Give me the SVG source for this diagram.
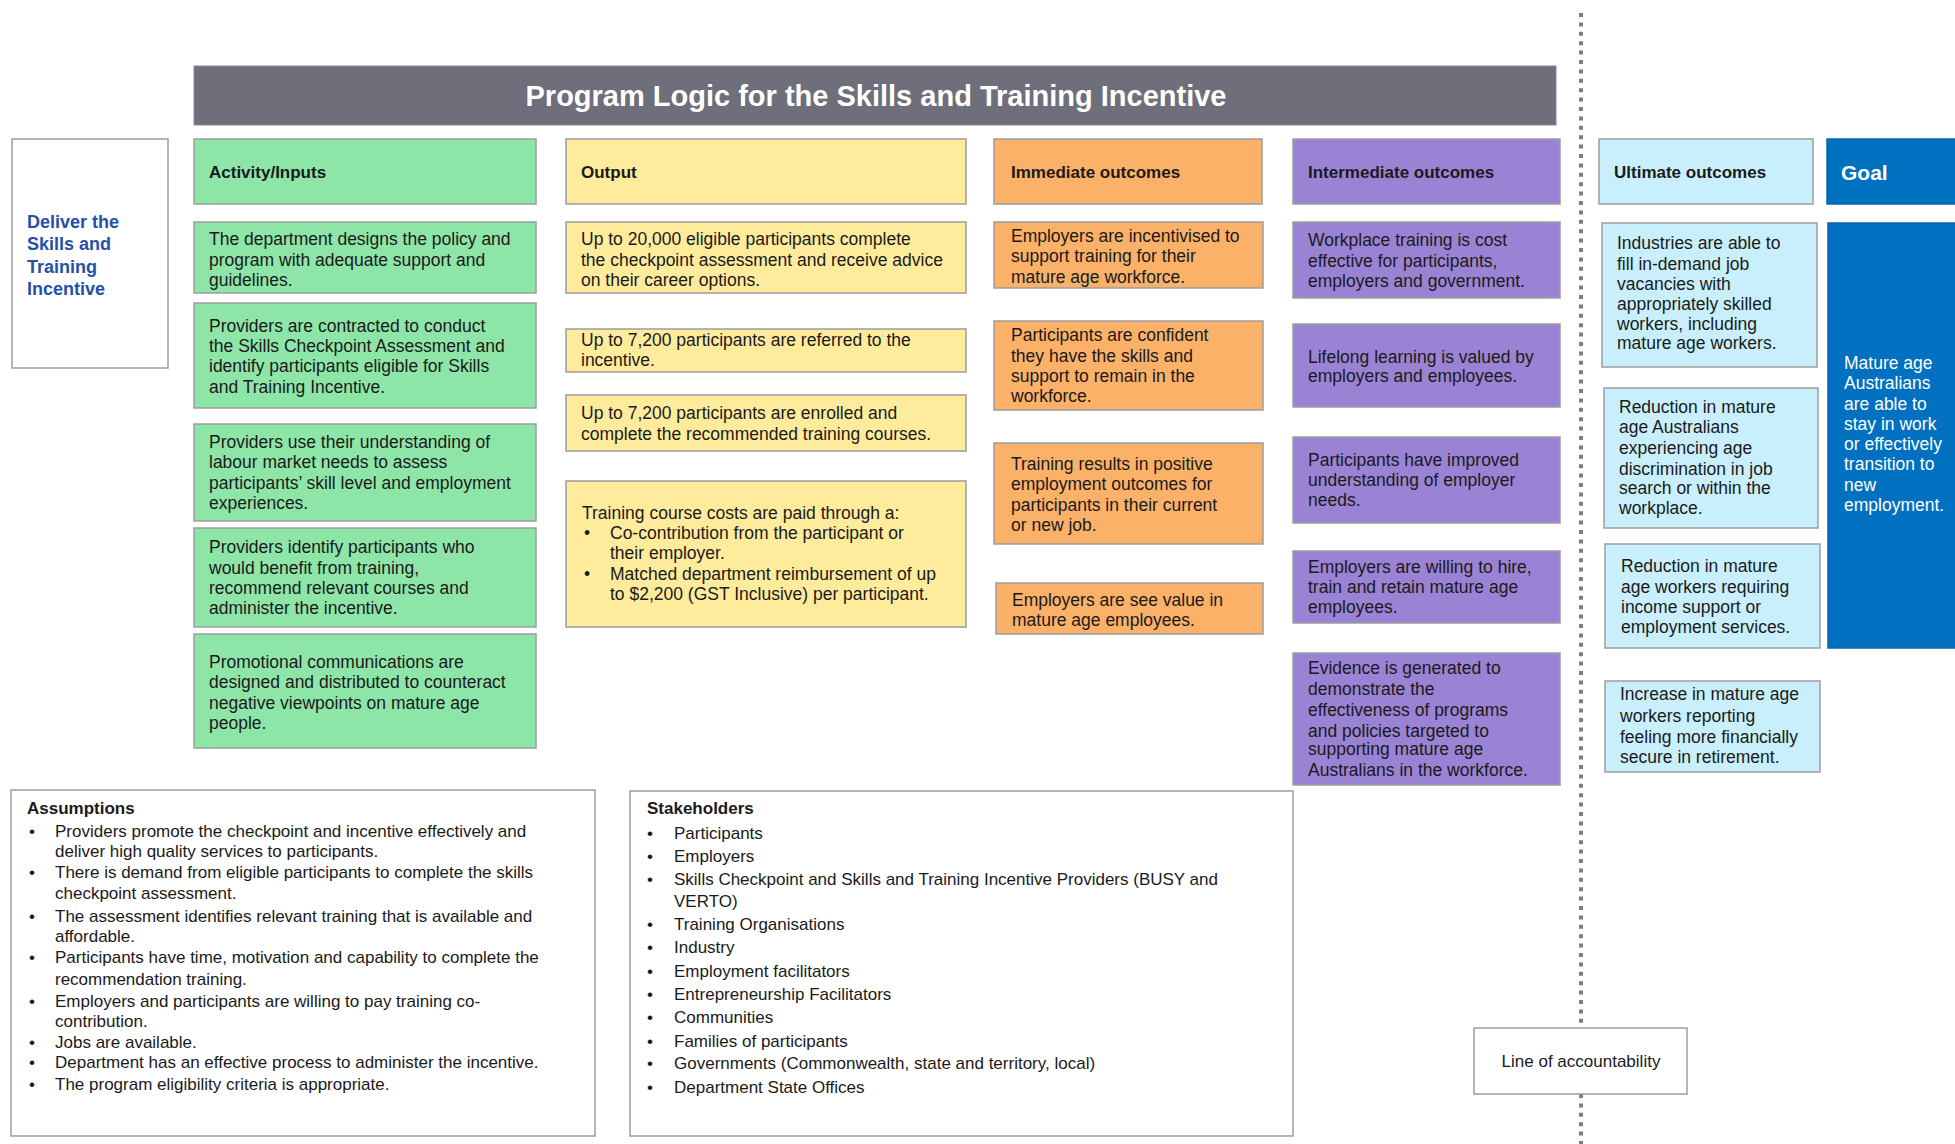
<svg xmlns="http://www.w3.org/2000/svg" width="1955" height="1144" viewBox="0 0 1955 1144">
<style>
.box{stroke:#9d9d9d;stroke-width:1.5}
.green{fill:#8ee5a8}
.yellow{fill:#ffeb9c}
.orange{fill:#fbb168}
.purple{fill:#9a83d4}
.lblue{fill:#c9effc}
.blue{fill:#0070c0;stroke:#0a64ad}
.white{fill:#ffffff}
text{font-family:"Liberation Sans",Arial,sans-serif;font-size:17.5px;fill:#1a1a1a}
.h{font-weight:bold;font-size:17px}
.s{font-size:17px}
.title{font-weight:bold;font-size:29px;fill:#ffffff}
.deliver{font-weight:bold;font-size:18px;fill:#2450a8}
.wt{fill:#ffffff}
</style>
<rect width="1955" height="1144" fill="#ffffff"/>

<g id="connectors">
  <line id="line-of-accountability-divider" x1="1581" y1="13" x2="1581" y2="1144" stroke="#7d7d86" stroke-width="4" stroke-dasharray="4 5.4"/>
</g>

<g id="title">
  <rect x="194" y="66" width="1362" height="59" fill="#6f6f7b" stroke="#8a8a92" stroke-width="1"/>
  <text class="title" x="876" y="106" text-anchor="middle">Program Logic for the Skills and Training Incentive</text>
</g>

<g id="deliver">
  <rect class="box white" x="12" y="139" width="156" height="229"/>
  <text class="deliver"><tspan x="27" y="228">Deliver the</tspan><tspan x="27" y="250">Skills and</tspan><tspan x="27" y="273">Training</tspan><tspan x="27" y="295">Incentive</tspan></text>
</g>

<!-- Headers -->
<g id="hdr-activity">
  <rect class="box green" x="194" y="139" width="342" height="65"/>
  <text class="h" x="209" y="178">Activity/Inputs</text>
</g>
<g id="hdr-output">
  <rect class="box yellow" x="566" y="139" width="400" height="65"/>
  <text class="h" x="581" y="178">Output</text>
</g>
<g id="hdr-immediate">
  <rect class="box orange" x="994" y="139" width="268" height="65"/>
  <text class="h" x="1011" y="178">Immediate outcomes</text>
</g>
<g id="hdr-intermediate">
  <rect class="box purple" x="1293" y="139" width="267" height="65"/>
  <text class="h" x="1308" y="178">Intermediate outcomes</text>
</g>
<g id="hdr-ultimate">
  <rect class="box lblue" x="1599" y="139" width="214" height="65"/>
  <text class="h" x="1614" y="178">Ultimate outcomes</text>
</g>
<g id="hdr-goal">
  <rect class="box blue" x="1827" y="139" width="130" height="65"/>
  <text class="h wt" x="1841" y="180" style="font-size:21px">Goal</text>
</g>

<!-- Activity/Inputs -->
<g id="act-1">
  <rect class="box green" x="194" y="222" width="342" height="71"/>
  <text><tspan x="209" y="245">The department designs the policy and</tspan><tspan x="209" y="266">program with adequate support and</tspan><tspan x="209" y="286">guidelines.</tspan></text>
</g>
<g id="act-2">
  <rect class="box green" x="194" y="303" width="342" height="105"/>
  <text><tspan x="209" y="332">Providers are contracted to conduct</tspan><tspan x="209" y="352">the Skills Checkpoint Assessment and</tspan><tspan x="209" y="372">identify participants eligible for Skills</tspan><tspan x="209" y="393">and Training Incentive.</tspan></text>
</g>
<g id="act-3">
  <rect class="box green" x="194" y="424" width="342" height="97"/>
  <text><tspan x="209" y="448">Providers use their understanding of</tspan><tspan x="209" y="468">labour market needs to assess</tspan><tspan x="209" y="489">participants’ skill level and employment</tspan><tspan x="209" y="509">experiences.</tspan></text>
</g>
<g id="act-4">
  <rect class="box green" x="194" y="528" width="342" height="99"/>
  <text><tspan x="209" y="553">Providers identify participants who</tspan><tspan x="209" y="574">would benefit from training,</tspan><tspan x="209" y="594">recommend relevant courses and</tspan><tspan x="209" y="614">administer the incentive.</tspan></text>
</g>
<g id="act-5">
  <rect class="box green" x="194" y="634" width="342" height="114"/>
  <text><tspan x="209" y="668">Promotional communications are</tspan><tspan x="209" y="688">designed and distributed to counteract</tspan><tspan x="209" y="709">negative viewpoints on mature age</tspan><tspan x="209" y="729">people.</tspan></text>
</g>

<!-- Output -->
<g id="out-1">
  <rect class="box yellow" x="566" y="222" width="400" height="71"/>
  <text><tspan x="581" y="245">Up to 20,000 eligible participants complete</tspan><tspan x="581" y="266">the checkpoint assessment and receive advice</tspan><tspan x="581" y="286">on their career options.</tspan></text>
</g>
<g id="out-2">
  <rect class="box yellow" x="566" y="329" width="400" height="43"/>
  <text><tspan x="581" y="346">Up to 7,200 participants are referred to the</tspan><tspan x="581" y="366">incentive.</tspan></text>
</g>
<g id="out-3">
  <rect class="box yellow" x="566" y="395" width="400" height="56"/>
  <text><tspan x="581" y="419">Up to 7,200 participants are enrolled and</tspan><tspan x="581" y="440">complete the recommended training courses.</tspan></text>
</g>
<g id="out-4">
  <rect class="box yellow" x="566" y="481" width="400" height="146"/>
  <text><tspan x="582" y="519">Training course costs are paid through a:</tspan><tspan x="584" y="539">•</tspan><tspan x="610" y="539">Co-contribution from the participant or</tspan><tspan x="610" y="559">their employer.</tspan><tspan x="584" y="580">•</tspan><tspan x="610" y="580">Matched department reimbursement of up</tspan><tspan x="610" y="600">to $2,200 (GST Inclusive) per participant.</tspan></text>
</g>

<!-- Immediate outcomes -->
<g id="imm-1">
  <rect class="box orange" x="994" y="222" width="269" height="66"/>
  <text><tspan x="1011" y="242">Employers are incentivised to</tspan><tspan x="1011" y="262">support training for their</tspan><tspan x="1011" y="283">mature age workforce.</tspan></text>
</g>
<g id="imm-2">
  <rect class="box orange" x="994" y="321" width="269" height="89"/>
  <text><tspan x="1011" y="341">Participants are confident</tspan><tspan x="1011" y="362">they have the skills and</tspan><tspan x="1011" y="382">support to remain in the</tspan><tspan x="1011" y="402">workforce.</tspan></text>
</g>
<g id="imm-3">
  <rect class="box orange" x="994" y="443" width="269" height="101"/>
  <text><tspan x="1011" y="470">Training results in positive</tspan><tspan x="1011" y="490">employment outcomes for</tspan><tspan x="1011" y="511">participants in their current</tspan><tspan x="1011" y="531">or new job.</tspan></text>
</g>
<g id="imm-4">
  <rect class="box orange" x="996" y="583" width="267" height="51"/>
  <text><tspan x="1012" y="606">Employers are see value in</tspan><tspan x="1012" y="626">mature age employees.</tspan></text>
</g>

<!-- Intermediate outcomes -->
<g id="int-1">
  <rect class="box purple" x="1293" y="222" width="267" height="76"/>
  <text><tspan x="1308" y="246">Workplace training is cost</tspan><tspan x="1308" y="267">effective for participants,</tspan><tspan x="1308" y="287">employers and government.</tspan></text>
</g>
<g id="int-2">
  <rect class="box purple" x="1293" y="324" width="267" height="83"/>
  <text><tspan x="1308" y="363">Lifelong learning is valued by</tspan><tspan x="1308" y="382">employers and employees.</tspan></text>
</g>
<g id="int-3">
  <rect class="box purple" x="1293" y="437" width="267" height="86"/>
  <text><tspan x="1308" y="466">Participants have improved</tspan><tspan x="1308" y="486">understanding of employer</tspan><tspan x="1308" y="506">needs.</tspan></text>
</g>
<g id="int-4">
  <rect class="box purple" x="1293" y="551" width="267" height="72"/>
  <text><tspan x="1308" y="573">Employers are willing to hire,</tspan><tspan x="1308" y="593">train and retain mature age</tspan><tspan x="1308" y="613">employees.</tspan></text>
</g>
<g id="int-5">
  <rect class="box purple" x="1293" y="653" width="267" height="132"/>
  <text><tspan x="1308" y="674">Evidence is generated to</tspan><tspan x="1308" y="695">demonstrate the</tspan><tspan x="1308" y="716">effectiveness of programs</tspan><tspan x="1308" y="737">and policies targeted to</tspan><tspan x="1308" y="755">supporting mature age</tspan><tspan x="1308" y="776">Australians in the workforce.</tspan></text>
</g>

<!-- Ultimate outcomes -->
<g id="ult-1">
  <rect class="box lblue" x="1602" y="223" width="215" height="144"/>
  <text><tspan x="1617" y="249">Industries are able to</tspan><tspan x="1617" y="270">fill in-demand job</tspan><tspan x="1617" y="290">vacancies with</tspan><tspan x="1617" y="310">appropriately skilled</tspan><tspan x="1617" y="330">workers, including</tspan><tspan x="1617" y="349">mature age workers.</tspan></text>
</g>
<g id="ult-2">
  <rect class="box lblue" x="1604" y="388" width="214" height="140"/>
  <text><tspan x="1619" y="413">Reduction in mature</tspan><tspan x="1619" y="433">age Australians</tspan><tspan x="1619" y="454">experiencing age</tspan><tspan x="1619" y="475">discrimination in job</tspan><tspan x="1619" y="494">search or within the</tspan><tspan x="1619" y="514">workplace.</tspan></text>
</g>
<g id="ult-3">
  <rect class="box lblue" x="1605" y="544" width="215" height="104"/>
  <text><tspan x="1621" y="572">Reduction in mature</tspan><tspan x="1621" y="593">age workers requiring</tspan><tspan x="1621" y="613">income support or</tspan><tspan x="1621" y="633">employment services.</tspan></text>
</g>
<g id="ult-4">
  <rect class="box lblue" x="1605" y="681" width="215" height="91"/>
  <text><tspan x="1620" y="700">Increase in mature age</tspan><tspan x="1620" y="722">workers reporting</tspan><tspan x="1620" y="743">feeling more financially</tspan><tspan x="1620" y="763">secure in retirement.</tspan></text>
</g>

<!-- Goal -->
<g id="goal">
  <rect class="box blue" x="1828" y="223" width="129" height="425"/>
  <text class="wt"><tspan x="1844" y="369">Mature age</tspan><tspan x="1844" y="389">Australians</tspan><tspan x="1844" y="410">are able to</tspan><tspan x="1844" y="430">stay in work</tspan><tspan x="1844" y="450">or effectively</tspan><tspan x="1844" y="470">transition to</tspan><tspan x="1844" y="491">new</tspan><tspan x="1844" y="511">employment.</tspan></text>
</g>

<!-- Assumptions -->
<g id="assumptions">
  <rect class="box white" x="11" y="790" width="584" height="346"/>
  <text class="s">
    <tspan class="h" x="27" y="814">Assumptions</tspan>
    <tspan x="29" y="837">•</tspan><tspan x="55" y="837">Providers promote the checkpoint and incentive effectively and</tspan>
    <tspan x="55" y="857">deliver high quality services to participants.</tspan>
    <tspan x="29" y="878">•</tspan><tspan x="55" y="878">There is demand from eligible participants to complete the skills</tspan>
    <tspan x="55" y="899">checkpoint assessment.</tspan>
    <tspan x="29" y="922">•</tspan><tspan x="55" y="922">The assessment identifies relevant training that is available and</tspan>
    <tspan x="55" y="942">affordable.</tspan>
    <tspan x="29" y="963">•</tspan><tspan x="55" y="963">Participants have time, motivation and capability to complete the</tspan>
    <tspan x="55" y="985">recommendation training.</tspan>
    <tspan x="29" y="1007">•</tspan><tspan x="55" y="1007">Employers and participants are willing to pay training co-</tspan>
    <tspan x="55" y="1027">contribution.</tspan>
    <tspan x="29" y="1048">•</tspan><tspan x="55" y="1048">Jobs are available.</tspan>
    <tspan x="29" y="1068">•</tspan><tspan x="55" y="1068">Department has an effective process to administer the incentive.</tspan>
    <tspan x="29" y="1090">•</tspan><tspan x="55" y="1090">The program eligibility criteria is appropriate.</tspan>
  </text>
</g>

<!-- Stakeholders -->
<g id="stakeholders">
  <rect class="box white" x="630" y="791" width="663" height="345"/>
  <text class="s">
    <tspan class="h" x="647" y="814">Stakeholders</tspan>
    <tspan x="647" y="839">•</tspan><tspan x="674" y="839">Participants</tspan>
    <tspan x="647" y="862">•</tspan><tspan x="674" y="862">Employers</tspan>
    <tspan x="647" y="885">•</tspan><tspan x="674" y="885">Skills Checkpoint and Skills and Training Incentive Providers (BUSY and</tspan>
    <tspan x="674" y="907">VERTO)</tspan>
    <tspan x="647" y="930">•</tspan><tspan x="674" y="930">Training Organisations</tspan>
    <tspan x="647" y="953">•</tspan><tspan x="674" y="953">Industry</tspan>
    <tspan x="647" y="977">•</tspan><tspan x="674" y="977">Employment facilitators</tspan>
    <tspan x="647" y="1000">•</tspan><tspan x="674" y="1000">Entrepreneurship Facilitators</tspan>
    <tspan x="647" y="1023">•</tspan><tspan x="674" y="1023">Communities</tspan>
    <tspan x="647" y="1047">•</tspan><tspan x="674" y="1047">Families of participants</tspan>
    <tspan x="647" y="1069">•</tspan><tspan x="674" y="1069">Governments (Commonwealth, state and territory, local)</tspan>
    <tspan x="647" y="1093">•</tspan><tspan x="674" y="1093">Department State Offices</tspan>
  </text>
</g>

<!-- Line of accountability label -->
<g id="line-of-accountability">
  <rect class="box white" x="1474" y="1028" width="213" height="66"/>
  <text class="s" x="1581" y="1067" text-anchor="middle">Line of accountability</text>
</g>
</svg>
